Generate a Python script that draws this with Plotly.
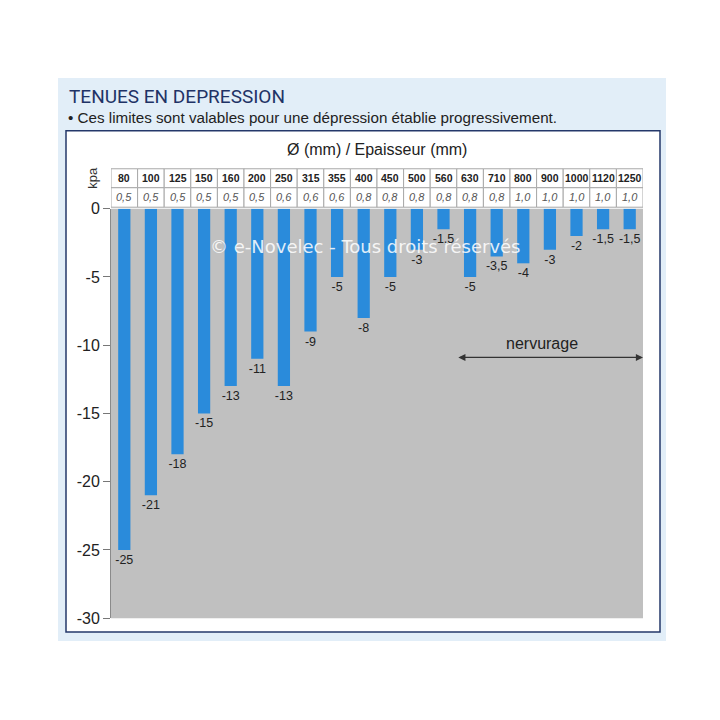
import plotly.graph_objects as go

diametres = ["80", "100", "125", "150", "160", "200", "250", "315", "355", "400",
             "450", "500", "560", "630", "710", "800", "900", "1000", "1120", "1250"]
epaisseurs = ["0,5", "0,5", "0,5", "0,5", "0,5", "0,5", "0,6", "0,6", "0,6", "0,8",
              "0,8", "0,8", "0,8", "0,8", "0,8", "1,0", "1,0", "1,0", "1,0", "1,0"]
depression_kpa = [-25, -21, -18, -15, -13, -11, -13, -9, -5, -8,
                  -5, -3, -1.5, -5, -3.5, -4, -3, -2, -1.5, -1.5]
y_ticks = [0, -5, -10, -15, -20, -25, -30]
nervurage_range = ["630", "1250"]

labels = [("%g" % v).replace(".", ",") for v in depression_kpa]
n = len(diametres)

W = H = 720
# observed rendering maps the paper height into [8, 712]
Y_OFF, Y_SPAN = 8, 704
def px(x):
    return x / W
def py(y):
    return 1 - (y - Y_OFF) / Y_SPAN

x_dom = [px(111), px(643)]
y_dom = [py(619), py(209)]

FONT = "Liberation Sans, Arial, sans-serif"

fig = go.Figure()
fig.add_trace(go.Bar(
    x=diametres, y=depression_kpa, width=0.46,
    marker=dict(color="#2a8bdb", line=dict(width=0)),
    text=labels, textposition="outside", cliponaxis=False, constraintext="none",
    textfont=dict(family=FONT, size=12.5, color="#222"),
    hoverinfo="skip",
))

shapes = []
shapes.append(dict(type="rect", xref="paper", yref="paper", x0=px(58), x1=px(666),
                   y0=py(642), y1=py(78), fillcolor="#e2eef8", line=dict(width=0), layer="below"))
shapes.append(dict(type="rect", xref="paper", yref="paper", x0=px(66), x1=px(660),
                   y0=py(633), y1=py(131), fillcolor="white",
                   line=dict(color="#24386a", width=1.5), layer="below"))
shapes.append(dict(type="rect", xref="x domain", yref="y domain", x0=0, x1=1, y0=0, y1=1,
                   fillcolor="#c0c0c0", line=dict(width=0), layer="below"))

row_tops = [py(169), py(188)]
row_bots = [py(188), py(207.5)]
for r in range(2):
    for i in range(n):
        shapes.append(dict(type="rect", xref="x", yref="paper", x0=i - 0.5, x1=i + 0.5,
                           y0=row_bots[r], y1=row_tops[r], fillcolor="white",
                           line=dict(color="#a8a8a8", width=1)))

annotations = []
for i in range(n):
    annotations.append(dict(x=i, y=(row_tops[0] + row_bots[0]) / 2, xref="x", yref="paper",
                            xanchor="center", yanchor="middle",
                            text="<b>%s</b>" % diametres[i], showarrow=False,
                            font=dict(family=FONT, size=10.5, color="#222")))
    annotations.append(dict(x=i, y=(row_tops[1] + row_bots[1]) / 2, xref="x", yref="paper",
                            xanchor="center", yanchor="middle",
                            text="<i>%s</i>" % epaisseurs[i], showarrow=False,
                            font=dict(family=FONT, size=11, color="#555")))

annotations.append(dict(x=px(67), y=py(97), xref="paper", yref="paper", xanchor="left", yanchor="middle",
                        text="TENUES EN DEPRESSION", showarrow=False,
                        font=dict(family="Roboto, Liberation Sans, sans-serif", size=19, color="#1f3366")))
annotations.append(dict(x=px(66), y=py(118), xref="paper", yref="paper", xanchor="left", yanchor="middle",
                        text="• Ces limites sont valables pour une dépression établie progressivement.",
                        showarrow=False, font=dict(family=FONT, size=15.2, color="#222")))
annotations.append(dict(x=px(377), y=py(150), xref="paper", yref="paper", xanchor="center", yanchor="middle",
                        text="Ø (mm) / Epaisseur (mm)", showarrow=False,
                        font=dict(family=FONT, size=16, color="#222")))
annotations.append(dict(x=px(93), y=py(178), xref="paper", yref="paper", xanchor="center", yanchor="middle",
                        text="kpa", textangle=-90, showarrow=False,
                        font=dict(family=FONT, size=13, color="#333")))

i0 = diametres.index(nervurage_range[0]) - 0.5
i1 = diametres.index(nervurage_range[1]) + 0.5
annotations.append(dict(x=i1, y=-10.9, ax=i0, ay=-10.9, xref="x", yref="y", axref="x", ayref="y",
                        text="", showarrow=True, arrowhead=2, arrowside="end+start",
                        arrowsize=1.1, arrowwidth=1.3, arrowcolor="#333"))
annotations.append(dict(x=(i0 + i1) / 2 - 0.3, y=-9.9, xref="x", yref="y", text="nervurage", showarrow=False,
                        xanchor="center", yanchor="middle",
                        font=dict(family=FONT, size=16, color="#222")))

annotations.append(dict(x=px(365), y=py(247), xref="paper", yref="paper", xanchor="center", yanchor="middle",
                        text="© e-Novelec - Tous droits réservés", showarrow=False, opacity=0.85,
                        font=dict(family="DejaVu Sans, sans-serif", size=18, color="white")))

fig.update_layout(
    width=W, height=H, margin=dict(l=0, r=0, t=0, b=0),
    paper_bgcolor="white", plot_bgcolor="rgba(0,0,0,0)",
    showlegend=False, shapes=shapes, annotations=annotations,
    xaxis=dict(domain=x_dom, type="category", range=[-0.5, n - 0.5], showticklabels=False,
               ticks="", showgrid=False, zeroline=False, showline=False, fixedrange=True),
    yaxis=dict(domain=y_dom, range=[-30, 0], tickvals=y_ticks, ticktext=[str(t) for t in y_ticks],
               ticks="outside", ticklen=7, tickcolor="#777", showgrid=False, zeroline=False,
               showline=True, linecolor="#8a8a8a", linewidth=1,
               tickfont=dict(family=FONT, size=16, color="#222"),
               fixedrange=True),
)

fig.write_html("out.html")
